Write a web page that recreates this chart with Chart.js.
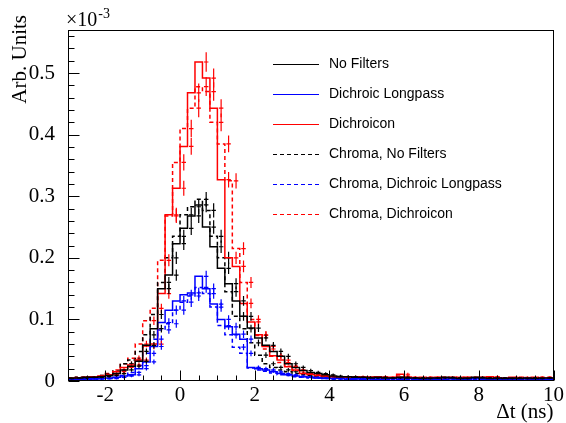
<!DOCTYPE html>
<html lang="en">
<head>
<meta charset="UTF-8">
<title>Delta t distributions</title>
<script src="https://cdn.jsdelivr.net/npm/chart.js"></script>
<style>
    html, body { margin: 0; padding: 0; background: #fff; }
    #wrap { width: 566px; height: 423px; }
</style>
</head>
<body>
<div id="wrap"><canvas id="chartCanvas" width="566" height="423"></canvas></div>
<script>
// 65 bins of 0.2 ns from -3 to 10 ns, values in units of 1e-3
const binStart = -3.0;
const binWidth = 0.2;

const noFilters = [
    0.004, 0.005, 0.005, 0.006, 0.006, 0.007, 0.009, 0.012, 0.018, 0.024,
    0.032, 0.058, 0.085, 0.150, 0.172, 0.223, 0.248, 0.268, 0.286, 0.250,
    0.218, 0.183, 0.158, 0.130, 0.105, 0.086, 0.070, 0.058, 0.048, 0.040,
    0.028, 0.022, 0.017, 0.014, 0.012, 0.010, 0.008, 0.007, 0.007, 0.006,
    0.006, 0.005, 0.006, 0.005, 0.005, 0.006, 0.005, 0.005, 0.004, 0.005,
    0.005, 0.006, 0.005, 0.004, 0.005, 0.006, 0.005, 0.004, 0.005, 0.004,
    0.005, 0.004, 0.005, 0.004, 0.005
];
const dichroicLongpass = [
    0.003, 0.003, 0.003, 0.004, 0.004, 0.004, 0.005, 0.006, 0.008, 0.010,
    0.020, 0.031, 0.056, 0.095, 0.115, 0.130, 0.140, 0.143, 0.170, 0.150,
    0.125, 0.100, 0.088, 0.076, 0.068, 0.022, 0.020, 0.018, 0.015, 0.012,
    0.010, 0.008, 0.007, 0.006, 0.005, 0.004, 0.004, 0.004, 0.003, 0.004,
    0.003, 0.004, 0.003, 0.003, 0.004, 0.003, 0.004, 0.003, 0.003, 0.004,
    0.003, 0.003, 0.004, 0.003, 0.003, 0.004, 0.003, 0.003, 0.003, 0.004,
    0.003, 0.003, 0.004, 0.003, 0.003
];
const dichroicon = [
    0.004, 0.005, 0.005, 0.006, 0.007, 0.008, 0.010, 0.015, 0.022, 0.026,
    0.034, 0.057, 0.060, 0.142, 0.270, 0.313, 0.381, 0.468, 0.518, 0.492,
    0.443, 0.327, 0.200, 0.186, 0.126, 0.096, 0.075, 0.056, 0.041, 0.034,
    0.023, 0.018, 0.012, 0.011, 0.009, 0.008, 0.007, 0.007, 0.006, 0.007,
    0.006, 0.006, 0.007, 0.005, 0.006, 0.011, 0.006, 0.005, 0.006, 0.005,
    0.006, 0.005, 0.006, 0.005, 0.006, 0.005, 0.006, 0.007, 0.005, 0.005,
    0.006, 0.005, 0.004, 0.006, 0.005
];
const chromaNoFilters = [
    0.004, 0.005, 0.006, 0.006, 0.007, 0.009, 0.011, 0.016, 0.028, 0.034,
    0.048, 0.075, 0.108, 0.160, 0.200, 0.235, 0.270, 0.283, 0.295, 0.277,
    0.235, 0.200, 0.145, 0.105, 0.085, 0.062, 0.042, 0.028, 0.022, 0.018,
    0.015, 0.012, 0.010, 0.009, 0.008, 0.007, 0.006, 0.006, 0.005, 0.006,
    0.005, 0.005, 0.006, 0.005, 0.005, 0.006, 0.005, 0.005, 0.005, 0.004,
    0.005, 0.005, 0.004, 0.005, 0.005, 0.005, 0.004, 0.005, 0.005, 0.004,
    0.004, 0.005, 0.004, 0.005, 0.004
];
const chromaDichroicLongpass = [
    0.002, 0.003, 0.003, 0.003, 0.003, 0.004, 0.004, 0.006, 0.009, 0.014,
    0.025, 0.045, 0.068, 0.083, 0.093, 0.115, 0.128, 0.138, 0.152, 0.142,
    0.120, 0.090, 0.075, 0.055, 0.045, 0.021, 0.018, 0.016, 0.013, 0.010,
    0.009, 0.007, 0.006, 0.005, 0.005, 0.004, 0.003, 0.004, 0.003, 0.003,
    0.004, 0.003, 0.003, 0.003, 0.004, 0.003, 0.003, 0.004, 0.003, 0.003,
    0.003, 0.004, 0.003, 0.003, 0.003, 0.003, 0.003, 0.004, 0.003, 0.003,
    0.003, 0.003, 0.003, 0.004, 0.003
];
const chromaDichroicon = [
    0.004, 0.005, 0.006, 0.006, 0.007, 0.009, 0.012, 0.018, 0.028, 0.037,
    0.060, 0.098, 0.118, 0.196, 0.268, 0.355, 0.410, 0.443, 0.478, 0.470,
    0.420, 0.385, 0.325, 0.215, 0.160, 0.100, 0.074, 0.052, 0.040, 0.030,
    0.024, 0.017, 0.013, 0.010, 0.008, 0.007, 0.006, 0.006, 0.007, 0.005,
    0.006, 0.006, 0.005, 0.006, 0.005, 0.008, 0.006, 0.005, 0.005, 0.006,
    0.005, 0.006, 0.005, 0.006, 0.005, 0.006, 0.005, 0.006, 0.005, 0.005,
    0.005, 0.006, 0.005, 0.005, 0.006
];

const seriesLabels = ['No Filters', 'Dichroic Longpass', 'Dichroicon',
    'Chroma, No Filters', 'Chroma, Dichroic Longpass', 'Chroma, Dichroicon'];
const seriesValues = [noFilters, dichroicLongpass, dichroicon,
    chromaNoFilters, chromaDichroicLongpass, chromaDichroicon];
const seriesColors = ['#000000', '#0000ff', '#ff0000', '#000000', '#0000ff', '#ff0000'];
const seriesDashed = [false, false, false, true, true, true];

// statistical error scale (sqrt of content)
const errScale = 0.022;
const dashPattern = [4, 3];

// step outline: one point per left edge plus the final right edge
function stepPoints(vals) {
    const pts = vals.map((v, i) => ({ x: binStart + i * binWidth, y: v }));
    pts.push({ x: binStart + vals.length * binWidth, y: vals[vals.length - 1] });
    return pts;
}

// error crosses at bin centres, separated by gaps
function errorPoints(vals) {
    const pts = [];
    vals.forEach((v, i) => {
        const c = binStart + (i + 0.5) * binWidth;
        const e = errScale * Math.sqrt(v);
        pts.push({ x: c, y: Math.max(0, v - e) }, { x: c, y: v + e }, { x: c, y: null });
        pts.push({ x: c - 0.06, y: v }, { x: c + 0.06, y: v }, { x: c, y: null });
    });
    return pts;
}

const datasets = [];
seriesValues.forEach((vals, k) => {
    datasets.push({
        label: seriesLabels[k],
        data: stepPoints(vals),
        stepped: 'after',
        borderColor: seriesColors[k],
        borderWidth: 1.5,
        borderDash: seriesDashed[k] ? dashPattern : [],
        pointRadius: 0,
        fill: false,
        isMain: true
    });
    datasets.push({
        label: seriesLabels[k] + ' err',
        data: errorPoints(vals),
        borderColor: seriesColors[k],
        borderWidth: 1.2,
        pointRadius: 0,
        spanGaps: false,
        fill: false,
        isMain: false
    });
});

const serif = 'Liberation Serif';
const sans = 'Liberation Sans';

const rootDecor = {
    id: 'rootDecor',
    afterDatasetsDraw(chart) {
        const { ctx, chartArea: a, scales: { x, y } } = chart;
        ctx.save();
        ctx.strokeStyle = '#000';
        ctx.lineWidth = 1;
        ctx.setLineDash([]);
        const L = Math.round(a.left) + 0.5, R = Math.round(a.right) - 0.5;
        const T = Math.round(a.top) + 0.5, B = Math.round(a.bottom) - 0.5;
        ctx.strokeRect(L, T, R - L, B - T);

        // ticks drawn inside the frame, ROOT style
        ctx.beginPath();
        x.ticks.forEach(t => {
            const px = Math.round(x.getPixelForValue(t.value)) + 0.5;
            const major = Math.abs(t.value % 2) < 1e-6;
            ctx.moveTo(px, B);
            ctx.lineTo(px, B - (major ? 10 : 5));
        });
        y.ticks.forEach(t => {
            const py = Math.round(y.getPixelForValue(t.value)) + 0.5;
            const major = Math.round(t.value * 100) % 10 === 0;
            ctx.moveTo(L, py);
            ctx.lineTo(L + (major ? 11 : 6), py);
        });
        ctx.stroke();

        // legend
        ctx.font = '14px "' + sans + '"';
        ctx.textBaseline = 'middle';
        ctx.textAlign = 'left';
        let row = 0;
        chart.data.datasets.forEach(ds => {
            if (!ds.isMain) return;
            const ly = Math.round(64 + row * 30) + 0.5;
            ctx.strokeStyle = ds.borderColor;
            ctx.lineWidth = 1.2;
            ctx.setLineDash(ds.borderDash || []);
            ctx.beginPath();
            ctx.moveTo(273, ly);
            ctx.lineTo(319, ly);
            ctx.stroke();
            ctx.fillStyle = '#000';
            ctx.fillText(ds.label, 329, ly);
            row++;
        });
        ctx.setLineDash([]);

        // axis titles
        ctx.fillStyle = '#000';
        ctx.font = '21px "' + serif + '"';
        ctx.textAlign = 'right';
        ctx.textBaseline = 'alphabetic';
        ctx.fillText('\u0394t (ns)', a.right, 418);

        ctx.save();
        ctx.translate(26, 15);
        ctx.rotate(-Math.PI / 2);
        ctx.fillText('Arb. Units', 0, 0);
        ctx.restore();

        // exponent above the y axis
        ctx.textAlign = 'left';
        ctx.font = '20px "' + serif + '"';
        ctx.fillText('\u00d710', 66, 26);
        const w = ctx.measureText('\u00d710').width;
        ctx.font = '14px "' + serif + '"';
        ctx.fillText('-3', 66 + w + 1, 18);
        ctx.restore();
    }
};

new Chart(document.getElementById('chartCanvas'), {
    type: 'line',
    data: { datasets: datasets },
    options: {
        responsive: false,
        animation: false,
        layout: { padding: { top: 30, right: 9, left: 0, bottom: 0 } },
        plugins: { legend: { display: false }, tooltip: { enabled: false } },
        scales: {
            x: {
                type: 'linear', min: -3, max: 10,
                grid: { display: false, drawTicks: false }, border: { display: false },
                ticks: {
                    stepSize: 0.5, autoSkip: false, maxRotation: 0, includeBounds: false,
                    padding: 2, color: '#000',
                    font: { family: serif, size: 21 },
                    callback: v => (Math.abs(v % 2) < 1e-6 ? String(Math.round(v)) : '')
                },
                afterFit: s => { s.height = 42; }
            },
            y: {
                type: 'linear', min: 0, max: 0.57,
                grid: { display: false, drawTicks: false }, border: { display: false },
                ticks: {
                    stepSize: 0.02, autoSkip: false, includeBounds: false,
                    padding: 13, color: '#000',
                    font: { family: serif, size: 21 },
                    callback: v => {
                        const k = Math.round(v * 100);
                        if (k % 10 !== 0) return '';
                        return k === 0 ? '0' : String(k / 100);
                    }
                },
                afterFit: s => { s.width = 68; }
            }
        }
    },
    plugins: [rootDecor]
});
</script>
</body>
</html>
